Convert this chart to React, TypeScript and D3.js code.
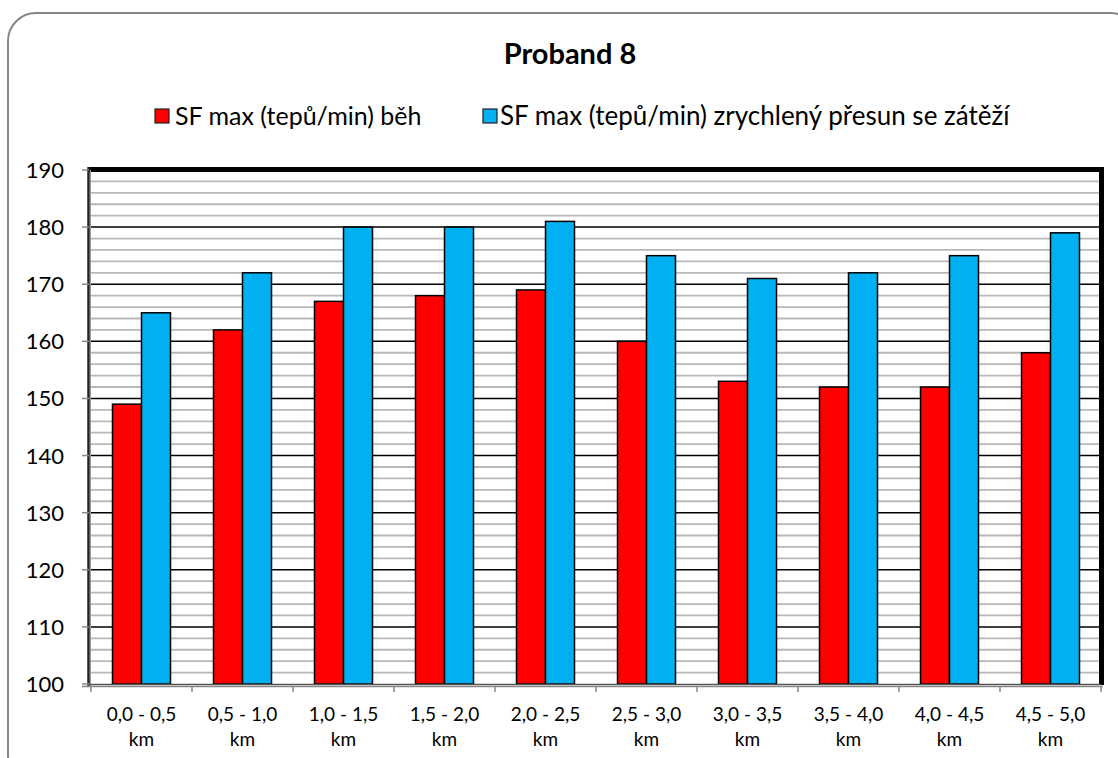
import React, { useEffect, useRef } from "react";
import * as d3 from "d3";

const categories = ["0,0 - 0,5", "0,5 - 1,0", "1,0 - 1,5", "1,5 - 2,0", "2,0 - 2,5", "2,5 - 3,0", "3,0 - 3,5", "3,5 - 4,0", "4,0 - 4,5", "4,5 - 5,0"];
const runValues = [149, 162, 167, 168, 169, 160, 153, 152, 152, 158];
const loadValues = [165, 172, 180, 180, 181, 175, 171, 172, 175, 179];
const seriesNames = ["SF max (tepů/min) běh", "SF max (tepů/min) zrychlený přesun se zátěží"];
const seriesColors = ["#ff0000", "#00b0f0"];
const yTicks = [100, 110, 120, 130, 140, 150, 160, 170, 180, 190];
const title = "Proband 8";

const W = 1118, H = 758;
const FONT = "Lato, 'Open Sans', sans-serif";

export default function App() {
  const ref = useRef<SVGSVGElement | null>(null);
  useEffect(() => {
    const svg = d3.select(ref.current);
    svg.selectAll("*").remove();
    const left = 91, right = 1101, top = 170, bottom = 684;
    const x = d3.scaleBand<string>().domain(categories).range([left, right]).paddingInner(0).paddingOuter(0);
    const y = d3.scaleLinear().domain([100, 190]).range([bottom, top]);

    svg.append("rect").attr("x", 8).attr("y", 13).attr("width", 1130).attr("height", 770)
      .attr("rx", 28).attr("fill", "#fff").attr("stroke", "#868686").attr("stroke-width", 2);

    svg.append("text").attr("x", 570).attr("y", 64).attr("text-anchor", "middle")
      .attr("font-family", FONT).attr("font-weight", "bold").attr("font-size", 29).text(title);

    // legend
    const leg = [{ x: 155, tx: 175, fs: 25 }, { x: 483, tx: 500, fs: 26 }];
    leg.forEach((l, i) => {
      svg.append("rect").attr("x", l.x).attr("y", 109).attr("width", 14).attr("height", 14)
        .attr("fill", seriesColors[i]).attr("stroke", "#222").attr("stroke-width", 1.2);
      svg.append("text").attr("x", l.tx).attr("y", 125).attr("font-family", FONT).attr("font-size", l.fs)
        .text(seriesNames[i]);
    });

    // grid
    const minor = d3.range(100, 191, 2).filter(v => v % 10 !== 0);
    svg.append("g").selectAll("line").data(minor).join("line")
      .attr("x1", left).attr("x2", right).attr("y1", d => y(d)).attr("y2", d => y(d))
      .attr("stroke", "#b8b8b8").attr("stroke-width", 1.8);
    svg.append("g").selectAll("line").data(yTicks.filter(v => v !== 100 && v !== 190)).join("line")
      .attr("x1", left).attr("x2", right).attr("y1", d => y(d)).attr("y2", d => y(d))
      .attr("stroke", "#000").attr("stroke-width", 1.5);

    // bars
    const bw = 29;
    const g = svg.append("g");
    const series = [runValues, loadValues];
    series.forEach((vals, si) => {
      g.selectAll(`rect.s${si}`).data(vals).join("rect").attr("class", `s${si}`)
        .attr("x", (_, i) => (x(categories[i]) as number) + x.bandwidth() / 2 - bw + si * bw)
        .attr("y", d => y(d)).attr("width", bw).attr("height", d => bottom - y(d))
        .attr("fill", seriesColors[si]).attr("stroke", "#000").attr("stroke-width", 1.5);
    });

    // frame
    svg.append("line").attr("x1", 88).attr("x2", 1104).attr("y1", 169.5).attr("y2", 169.5).attr("stroke", "#000").attr("stroke-width", 5);
    svg.append("line").attr("x1", 1101.5).attr("x2", 1101.5).attr("y1", 167).attr("y2", 685).attr("stroke", "#000").attr("stroke-width", 5);
    svg.append("line").attr("x1", 88.5).attr("x2", 88.5).attr("y1", 167).attr("y2", 686).attr("stroke", "#222").attr("stroke-width", 2.5);
    svg.append("line").attr("x1", 90.5).attr("x2", 90.5).attr("y1", 170).attr("y2", 686).attr("stroke", "#999").attr("stroke-width", 1);
    svg.append("line").attr("x1", 88).attr("x2", 1101).attr("y1", 684.5).attr("y2", 684.5).attr("stroke", "#555").attr("stroke-width", 1.5);

    // y axis
    const ya = svg.append("g");
    ya.selectAll("line").data(yTicks).join("line")
      .attr("x1", 82).attr("x2", 89).attr("y1", d => y(d)).attr("y2", d => y(d))
      .attr("stroke", "#888").attr("stroke-width", 1.5);
    ya.selectAll("text").data(yTicks).join("text")
      .attr("x", 64).attr("y", d => y(d) + 8).attr("text-anchor", "end")
      .attr("font-family", FONT).attr("font-size", 22).text(d => d);

    // x axis
    svg.append("line").attr("x1", 82).attr("x2", 1103).attr("y1", 686.5).attr("y2", 686.5).attr("stroke", "#888").attr("stroke-width", 1.5);
    const xt = categories.map(c => x(c) as number).concat([right]);
    svg.append("g").selectAll("line").data(xt).join("line")
      .attr("x1", d => d).attr("x2", d => d).attr("y1", 686).attr("y2", 692)
      .attr("stroke", "#888").attr("stroke-width", 1.5);
    const xl = svg.append("g");
    categories.forEach(c => {
      const cx = (x(c) as number) + x.bandwidth() / 2;
      xl.append("text").attr("x", cx).attr("y", 721).attr("text-anchor", "middle")
        .attr("font-family", FONT).attr("font-size", 19).text(c);
      xl.append("text").attr("x", cx).attr("y", 746).attr("text-anchor", "middle")
        .attr("font-family", FONT).attr("font-size", 19).text("km");
    });
  }, []);
  return (
    <svg ref={ref} width={W} height={H} style={{ position: "absolute", left: 0, top: 0, background: "#fff" }} />
  );
}
